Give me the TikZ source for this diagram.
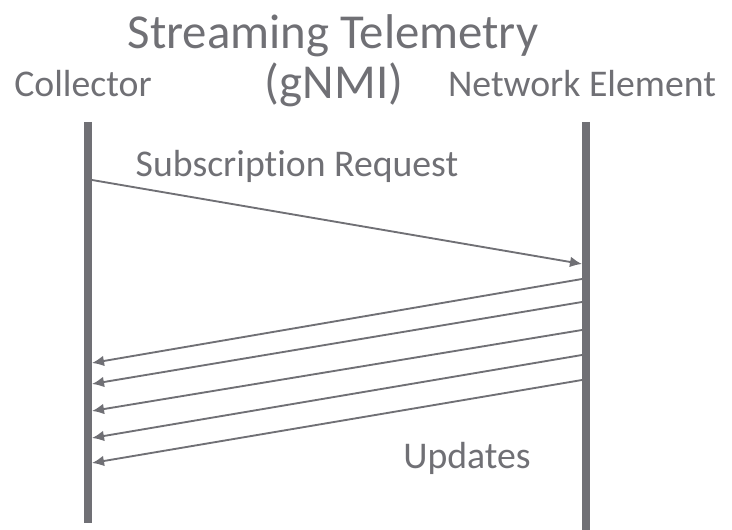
\documentclass[tikz,border=0pt]{standalone}
\usepackage{fontspec}
\setmainfont{Carlito}[Ligatures=NoCommon]
\usetikzlibrary{arrows.meta}
\definecolor{telegray}{RGB}{112,112,117}

\begin{document}
\begin{tikzpicture}[x=0.75pt, y=-0.75pt, >={Latex[length=9pt,width=8pt]},
    lifeline/.style={line width=6pt, telegray},
    msg/.style={->, line width=1.4pt, telegray},
    label/.style={text=telegray, font=\fontsize{28.3}{34}\selectfont},
    heading/.style={text=telegray, font=\fontsize{36.6}{44}\selectfont}]
    \useasboundingbox (0,0) rectangle (732,530);
    % Titles
    \node[heading, anchor=base] (title) at (333,49) {Streaming Telemetry};
    \node[heading, anchor=base] (proto) at (334,99) {(gNMI)};
    \node[label, anchor=base] (collector) at (83,97) {Collector};
    \node[label, anchor=base] (element) at (582,97) {Network Element};
    % Lifelines
    \coordinate (ctop) at (88,122);
    \coordinate (cbot) at (88,523);
    \coordinate (etop) at (585.5,122);
    \coordinate (ebot) at (585.5,530);
    \draw[lifeline] (ctop) -- (cbot);
    \draw[lifeline] (etop) -- (ebot);
    % Subscription Request
    \coordinate (req0) at (92,180);
    \coordinate (req1) at (582,264);
    \draw[msg] (req0) -- (req1);
    \node[label, anchor=base] (request) at (297,177) {Subscription Request};
    % Updates
    \coordinate (up1a) at (582,279);
    \coordinate (up1b) at (92,363);
    \coordinate (up2a) at (582,302);
    \coordinate (up2b) at (92,384);
    \coordinate (up3a) at (582,330);
    \coordinate (up3b) at (92,411);
    \coordinate (up4a) at (582,355);
    \coordinate (up4b) at (92,438);
    \coordinate (up5a) at (582,380);
    \coordinate (up5b) at (92,463);
    \draw[msg] (up1a) -- (up1b);
    \draw[msg] (up2a) -- (up2b);
    \draw[msg] (up3a) -- (up3b);
    \draw[msg] (up4a) -- (up4b);
    \draw[msg] (up5a) -- (up5b);
    \node[label, anchor=base] (updates) at (467,469) {Updates};
\end{tikzpicture}
\end{document}
